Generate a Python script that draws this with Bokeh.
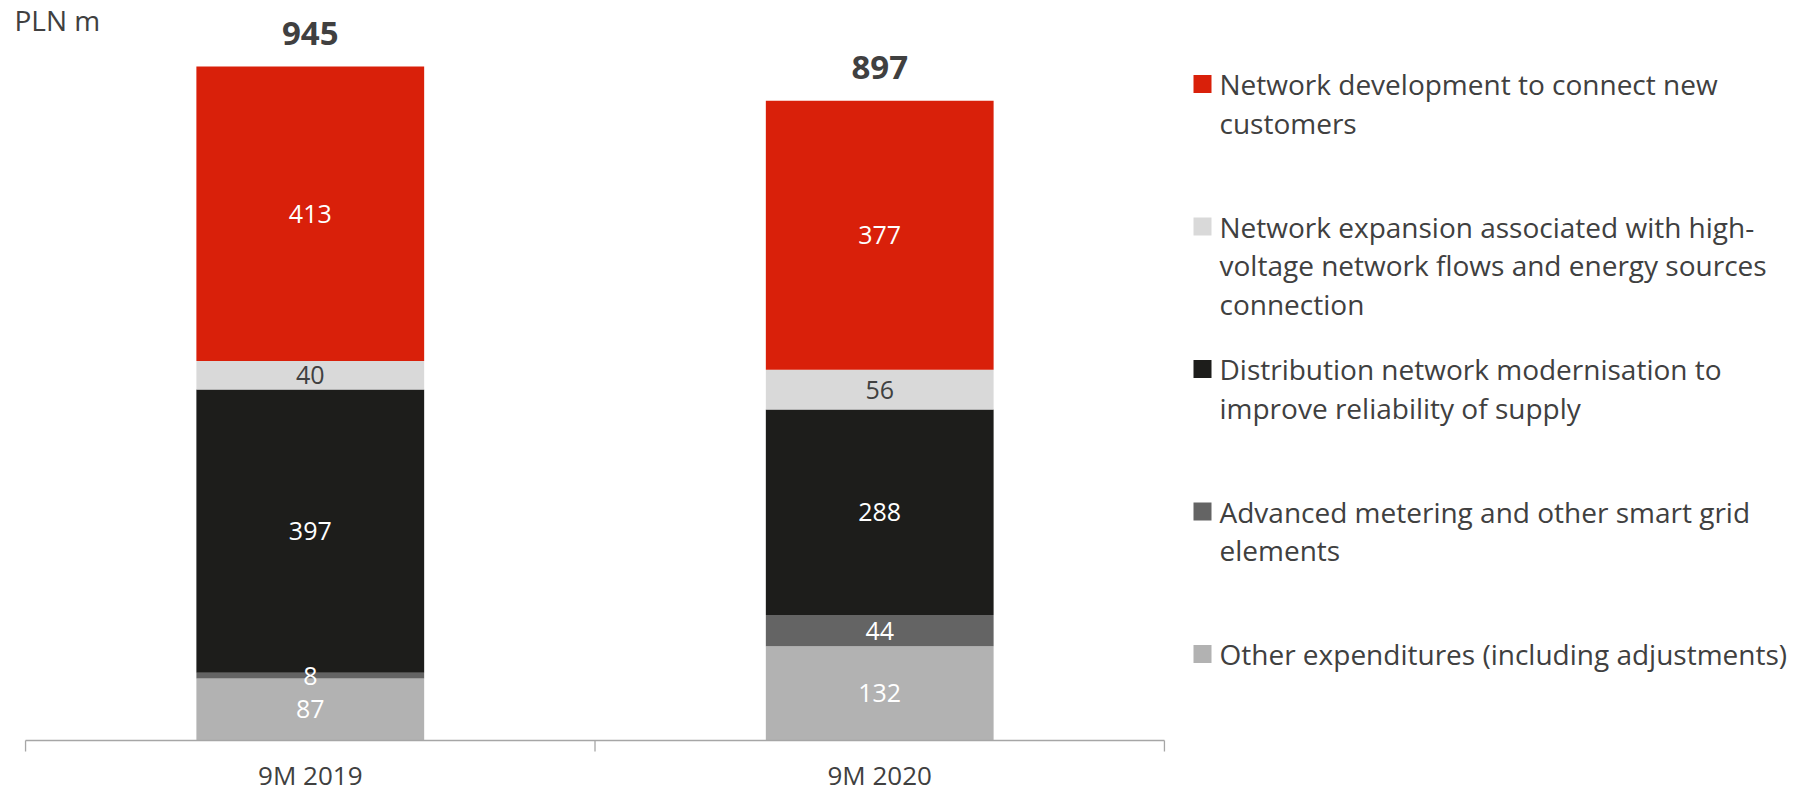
from bokeh.plotting import figure
from bokeh.layouts import row
from bokeh.models import Range1d, FactorRange, ColumnDataSource
from bokeh.core.properties import value
from bokeh.embed import file_html
from bokeh.resources import INLINE

# ---------------- data ----------------
categories = ["9M 2019", "9M 2020"]
other_exp = [87, 132]
metering = [8, 44]
modernisation = [397, 288]
expansion = [40, 56]
development = [413, 377]
totals = [945, 897]
unit_label = "PLN m"

stack_keys = ["other_exp", "metering", "modernisation", "expansion", "development"]
stack_colors = ["#B2B2B2", "#646464", "#1D1D1B", "#D9D9D9", "#D9200A"]
label_colors = ["#FFFFFF", "#FFFFFF", "#FFFFFF", "#404040", "#FFFFFF"]
legend_labels = [
    ["Network development to connect new", "customers"],
    ["Network expansion associated with high-", "voltage network flows and energy sources", "connection"],
    ["Distribution network modernisation to", "improve reliability of supply"],
    ["Advanced metering and other smart grid", "elements"],
    ["Other expenditures (including adjustments)"],
]
legend_colors = ["#D9200A", "#D9D9D9", "#1D1D1B", "#646464", "#B2B2B2"]

# ---------------- layout constants ----------------
FONT = "Open Sans"
TEXT = "#404040"
H = 791
W1 = 1189
W2 = 604
PAD = 0.044
PX_PER_CAT = W1 / (2 * PAD + 2)
PX_PER_UNIT = 0.7132
ZERO_Y = 740          # pixels from figure top to value 0
y_end = ZERO_Y / PX_PER_UNIT
y_start = -(H - ZERO_Y) / PX_PER_UNIT

src = ColumnDataSource(dict(cat=categories, other_exp=other_exp, metering=metering,
                            modernisation=modernisation, expansion=expansion,
                            development=development))

p = figure(width=W1, height=H, x_range=FactorRange(*categories, range_padding=PAD,
                                                   range_padding_units="absolute"),
           y_range=Range1d(y_start, y_end), output_backend="svg", toolbar_location=None,
           min_border=0, outline_line_color=None)
p.axis.visible = False
p.grid.visible = False

p.vbar_stack(stack_keys, x="cat", width=0.4, source=src, fill_color=stack_colors,
             line_color=None)

# segment value labels
series = [other_exp, metering, modernisation, expansion, development]
lx, ly, lt, lc = [], [], [], []
for ci, cat in enumerate(categories):
    base = 0
    for si, s in enumerate(series):
        v = s[ci]
        lx.append(cat)
        ly.append(base + v / 2)
        lt.append(str(v))
        lc.append(label_colors[si])
        base += v
p.text(x=lx, y=ly, text=lt, text_color=lc, text_font=value(FONT), text_font_size="25px",
       text_align="center", text_baseline="middle")

# totals
gap = 33 / PX_PER_UNIT
p.text(x=categories, y=[t + gap for t in totals], text=[str(t) for t in totals],
       text_color=TEXT, text_font=value(FONT), text_font_size="33px", text_font_style="bold",
       text_align="center", text_baseline="middle")

# axis line and boundary ticks
n = len(categories)
p.segment(x0=[0], x1=[n], y0=[0], y1=[0], line_color="#A6A6A6", line_width=1.3)
tick = 11 / PX_PER_UNIT
p.segment(x0=list(range(n + 1)), x1=list(range(n + 1)), y0=[0] * (n + 1),
          y1=[-tick] * (n + 1), line_color="#A6A6A6", line_width=1.3)
cat_y = -34 / PX_PER_UNIT
p.text(x=categories, y=[cat_y] * n, text=categories, text_color=TEXT, text_font=value(FONT),
       text_font_size="26px", text_align="center", text_baseline="middle")

# unit label
p.text(x=[-PAD + 14 / PX_PER_CAT], y=[y_end - 19 / PX_PER_UNIT], text=[unit_label],
       text_color=TEXT, text_font=value(FONT), text_font_size="28px", text_align="left",
       text_baseline="middle")

# ---------------- legend figure ----------------
X0 = W1
q = figure(width=W2, height=H, x_range=Range1d(X0, X0 + W2), y_range=Range1d(H, 0),
           output_backend="svg", toolbar_location=None, min_border=0,
           outline_line_color=None)
q.axis.visible = False
q.grid.visible = False

ENTRY_Y0 = 83.5
ENTRY_STEP = 142.5
LINE_STEP = 38.5
sq_x, sq_y, tx, ty, tt = [], [], [], [], []
for i, lines in enumerate(legend_labels):
    ey = ENTRY_Y0 + i * ENTRY_STEP
    sq_x.append(1202)
    sq_y.append(ey)
    for j, line in enumerate(lines):
        tx.append(1219)
        ty.append(ey + j * LINE_STEP)
        tt.append(line)
q.rect(x=sq_x, y=sq_y, width=18, height=18, fill_color=legend_colors, line_color=None)
q.text(x=tx, y=ty, text=tt, text_color=TEXT, text_font=value(FONT), text_font_size="28px",
       text_align="left", text_baseline="middle")

layout = row(p, q)
open("out.html", "w").write(file_html(layout, INLINE))
